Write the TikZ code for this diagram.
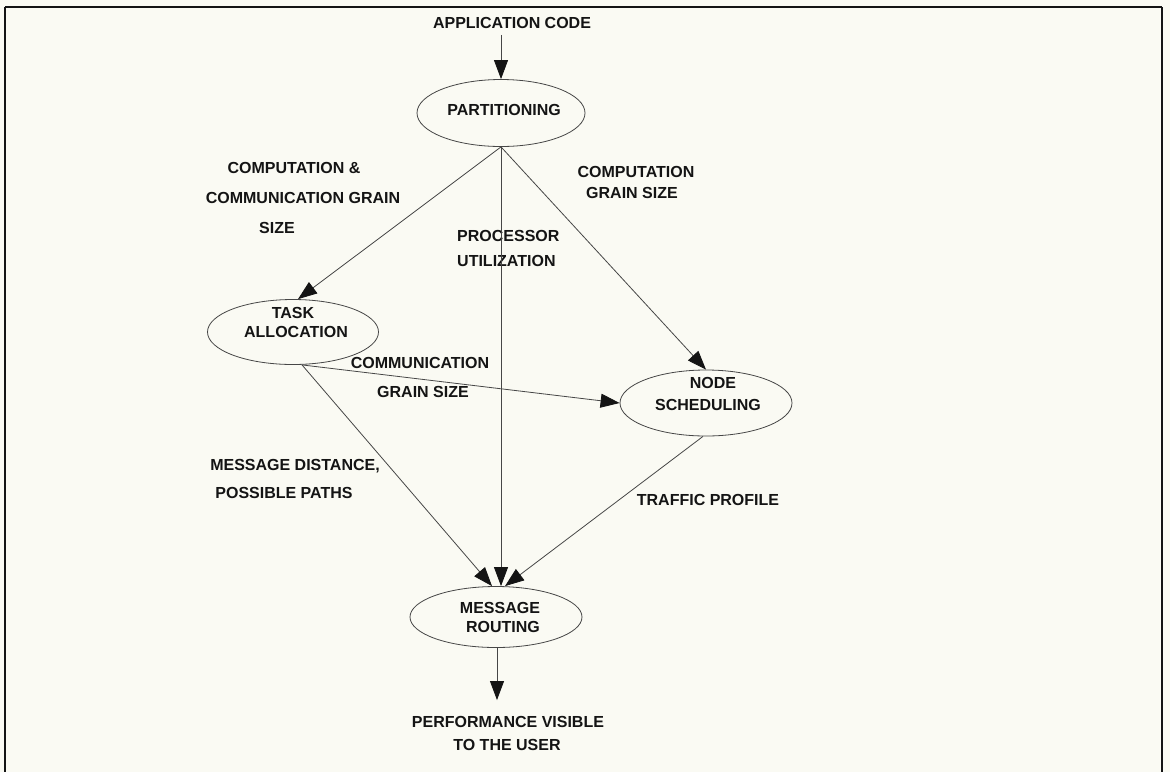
\documentclass[tikz,border=0pt]{standalone}
\usepackage{fontspec}
\setmainfont{Liberation Sans}
\usetikzlibrary{shapes.geometric,arrows.meta}
\definecolor{paper}{RGB}{250,250,243}
\definecolor{ink}{RGB}{20,20,20}
\definecolor{wire}{RGB}{70,70,70}
\tikzset{
  lbl/.style={font=\bfseries\fontsize{16}{19}\selectfont, text=ink, inner sep=0pt, text height=11.5pt, text depth=0pt},
  ell/.style={draw=wire, line width=0.8pt, ellipse, inner sep=0pt},
  conn/.style={draw=wire, line width=0.8pt, -{Triangle[length=19pt,width=14pt,color=ink,fill=ink]}},
  frame/.style={draw=ink, line width=2pt}
}
\begin{document}
\begin{tikzpicture}[x=1pt,y=-1pt]
\useasboundingbox (0,0) rectangle (1170,772);
\fill[paper] (0,0) rectangle (1170,772);
\draw[frame] (5,7) -- (1162,7);
\draw[frame] (5,7) -- (5,772);
\draw[frame] (1162,7) -- (1162,772);

% ellipses
\node[ell, minimum width=168pt, minimum height=67pt] (part) at (501,113) {};
\node[ell, minimum width=171pt, minimum height=65pt] (ta) at (293,332) {};
\node[ell, minimum width=172pt, minimum height=66pt] (ns) at (706,403) {};
\node[ell, minimum width=172pt, minimum height=61pt] (mr) at (496,617) {};

% texts in ellipses
\node[lbl] (tpart) at (504,110) {PARTITIONING};
\node[lbl] (tta1) at (293,313) {TASK};
\node[lbl] (tta2) at (296,332) {ALLOCATION};
\node[lbl] (tns1) at (713,383) {NODE};
\node[lbl] (tns2) at (708,405) {SCHEDULING};
\node[lbl] (tmr1) at (500,608) {MESSAGE};
\node[lbl] (tmr2) at (503,627) {ROUTING};

% input / output
\node[lbl] (app) at (512,23) {APPLICATION CODE};
\node[lbl] (perf1) at (508,722) {PERFORMANCE VISIBLE};
\node[lbl] (perf2) at (507,745) {TO THE USER};

% edge labels
\node[lbl] (l1a) at (294,168) {COMPUTATION \&};
\node[lbl] (l1b) at (303,198) {COMMUNICATION GRAIN};
\node[lbl] (l1c) at (277,228) {SIZE};
\node[lbl] (l2a) at (636,172) {COMPUTATION};
\node[lbl] (l2b) at (632,193) {GRAIN SIZE};
\node[lbl, anchor=west] (l3a) at (457,236) {PROCESSOR};
\node[lbl, anchor=west] (l3b) at (457,261) {UTILIZATION};
\node[lbl] (l4a) at (420,363) {COMMUNICATION};
\node[lbl] (l4b) at (423,392) {GRAIN SIZE};
\node[lbl] (l5a) at (295,465) {MESSAGE DISTANCE,};
\node[lbl] (l5b) at (284,493) {POSSIBLE PATHS};
\node[lbl] (l6) at (708,500) {TRAFFIC PROFILE};

% connectors
\draw[conn, shorten <=6pt] (app.south -| part.north) -- (part.north);
\draw[conn] (part.south) -- ([xshift=5pt]ta.north);
\draw[conn] (part.south) -- (part.south |- mr.north);
\draw[conn] (part.south) -- (ns.north);
\draw[conn] ([xshift=9pt]ta.south) -- (ns.west);
\draw[conn] ([xshift=9pt]ta.south) -- ([xshift=-4pt]mr.north);
\draw[conn] ([xshift=-3pt]ns.south) -- ([xshift=9pt]mr.north);
\draw[conn, shorten >=16pt] ([xshift=1pt]mr.south) -- ([xshift=1pt]mr.south |- perf1.north);
\end{tikzpicture}
\end{document}
